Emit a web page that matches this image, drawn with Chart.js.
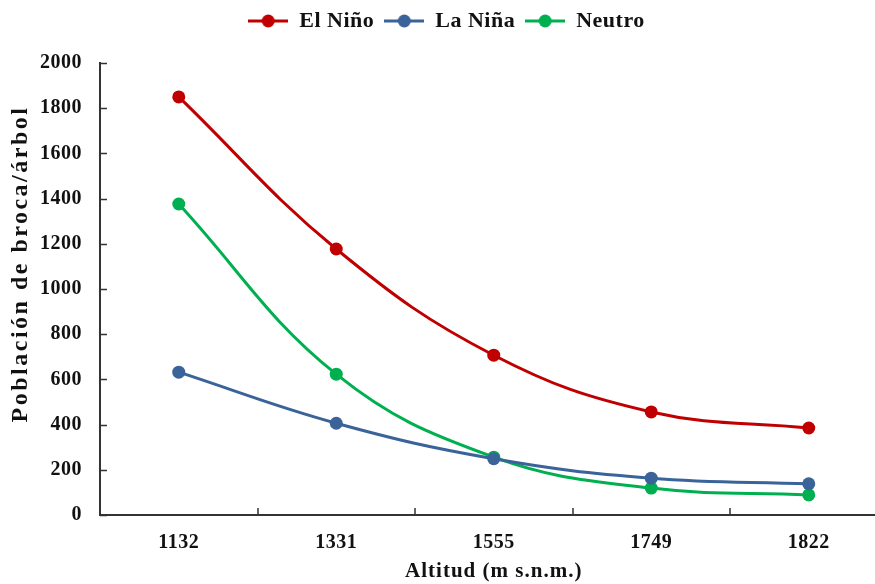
<!DOCTYPE html>
<html>
<head>
<meta charset="utf-8">
<script src="https://cdn.jsdelivr.net/npm/chart.js@4.4.1/dist/chart.umd.min.js"></script>
<style>
  html, body { margin: 0; padding: 0; background: #fff; overflow: hidden; }
  #wrap { width: 894px; height: 584px; }
</style>
</head>
<body>
<div id="wrap"><canvas id="chart"></canvas></div>
<script>
const altitudes = ["1132", "1331", "1555", "1749", "1822"];
const elNino = [1850, 1177, 707, 456, 385];
const laNina = [632, 406, 249, 163, 138];
const neutro = [1376, 623, 256, 119, 89];
const yTicks = [0, 200, 400, 600, 800, 1000, 1200, 1400, 1600, 1800, 2000];

const FONT = "'Liberation Serif', 'Times New Roman', serif";

function legendIcon(color) {
  const c = document.createElement("canvas");
  c.width = 40; c.height = 14;
  const g = c.getContext("2d");
  g.strokeStyle = color;
  g.lineWidth = 3;
  g.beginPath(); g.moveTo(0, 7); g.lineTo(40, 7); g.stroke();
  g.fillStyle = color;
  g.beginPath(); g.arc(20, 7, 6.5, 0, Math.PI * 2); g.fill();
  return c;
}

function series(label, data, color) {
  return {
    label: label,
    data: data,
    borderColor: color,
    backgroundColor: color,
    borderWidth: 3,
    pointRadius: 6.5,
    pointHoverRadius: 6.5,
    pointBorderWidth: 0,
    tension: 0.4,
    pointStyle: "circle",
    icon: legendIcon(color)
  };
}

// wider letter spacing on the axis titles, with an optional shift
function spacedTitle(scale, spacing, dy) {
  if (scale._spaced) return;
  const drawTitle = scale.drawTitle;
  scale.drawTitle = function () {
    this.ctx.save();
    this.ctx.letterSpacing = spacing;
    this.ctx.translate(0, dy || 0);
    drawTitle.call(this);
    this.ctx.restore();
  };
  scale._spaced = true;
}

// tick marks drawn inward, like the original
const innerTicks = {
  id: "innerTicks",
  afterDraw(chart) {
    const ctx = chart.ctx;
    const x = chart.scales.x, y = chart.scales.y;
    ctx.save();
    ctx.strokeStyle = "#333";
    ctx.lineWidth = 1.5;
    ctx.beginPath();
    yTicks.forEach(v => {
      const py = Math.round(y.getPixelForValue(v)) + 0.5;
      ctx.moveTo(x.left, py); ctx.lineTo(x.left + 7, py);
    });
    for (let i = 0; i < altitudes.length - 1; i++) {
      const px = Math.round((x.getPixelForValue(i) + x.getPixelForValue(i + 1)) / 2);
      ctx.moveTo(px, y.bottom); ctx.lineTo(px, y.bottom - 7);
    }
    ctx.stroke();
    ctx.restore();
  }
};

// fixed legend height so the plot starts where it does in the original
const legendHeight = {
  id: "legendHeight",
  beforeInit(chart) {
    const fit = chart.legend.fit;
    chart.legend.fit = function () {
      fit.call(this);
      this.height = 63;
    };
  },
  beforeLayout(chart) { chart.ctx.letterSpacing = "0.5px"; },
  beforeDraw(chart) { chart.ctx.letterSpacing = "0.5px"; }
};

new Chart(document.getElementById("chart"), {
  type: "line",
  data: {
    labels: altitudes,
    datasets: [
      series("El Niño", elNino, "#C00000"),
      series("La Niña", laNina, "#3A6399"),
      series("Neutro", neutro, "#00B050")
    ]
  },
  options: {
    responsive: true,
    maintainAspectRatio: false,
    animation: false,
    layout: { padding: { left: 0, right: 1, top: 0, bottom: 0 } },
    plugins: {
      tooltip: { enabled: false },
      legend: {
        position: "top",
        labels: {
          usePointStyle: true,
          pointStyleWidth: 40,
          color: "#111",
          font: { family: FONT, size: 22, weight: "bold" },
          padding: 10,
          generateLabels(chart) {
            return chart.data.datasets.map((ds, i) => ({
              text: ds.label,
              pointStyle: ds.icon,
              fillStyle: ds.borderColor,
              strokeStyle: ds.borderColor,
              lineWidth: 0,
              fontColor: "#111",
              hidden: false,
              datasetIndex: i
            }));
          }
        }
      }
    },
    scales: {
      x: {
        offset: true,
        afterFit(scale) { scale.height = 69; spacedTitle(scale, "1px", 0); },
        grid: { display: false },
        border: { display: true, color: "#333", width: 2 },
        ticks: {
          color: "#111",
          padding: 8,
          font: { family: FONT, size: 20, weight: "bold" }
        },
        title: {
          display: true,
          text: "Altitud (m s.n.m.)",
          color: "#111",
          padding: { top: 0, bottom: 0 },
          font: { family: FONT, size: 21, weight: "bold" }
        }
      },
      y: {
        min: 0,
        max: 2000,
        afterFit(scale) { scale.width = 100; spacedTitle(scale, "2.5px", -25); },
        afterBuildTicks(scale) { scale.ticks = yTicks.map(v => ({ value: v })); },
        grid: { display: false },
        border: { display: true, color: "#333", width: 2 },
        ticks: {
          color: "#111",
          padding: 10,
          callback: v => String(v),
          font: { family: FONT, size: 20, weight: "bold" }
        },
        title: {
          display: true,
          text: "Población de broca/árbol",
          color: "#111",
          padding: { top: 6, bottom: 0 },
          font: { family: FONT, size: 24, weight: "bold" }
        }
      }
    }
  },
  plugins: [innerTicks, legendHeight]
});
</script>
</body>
</html>
